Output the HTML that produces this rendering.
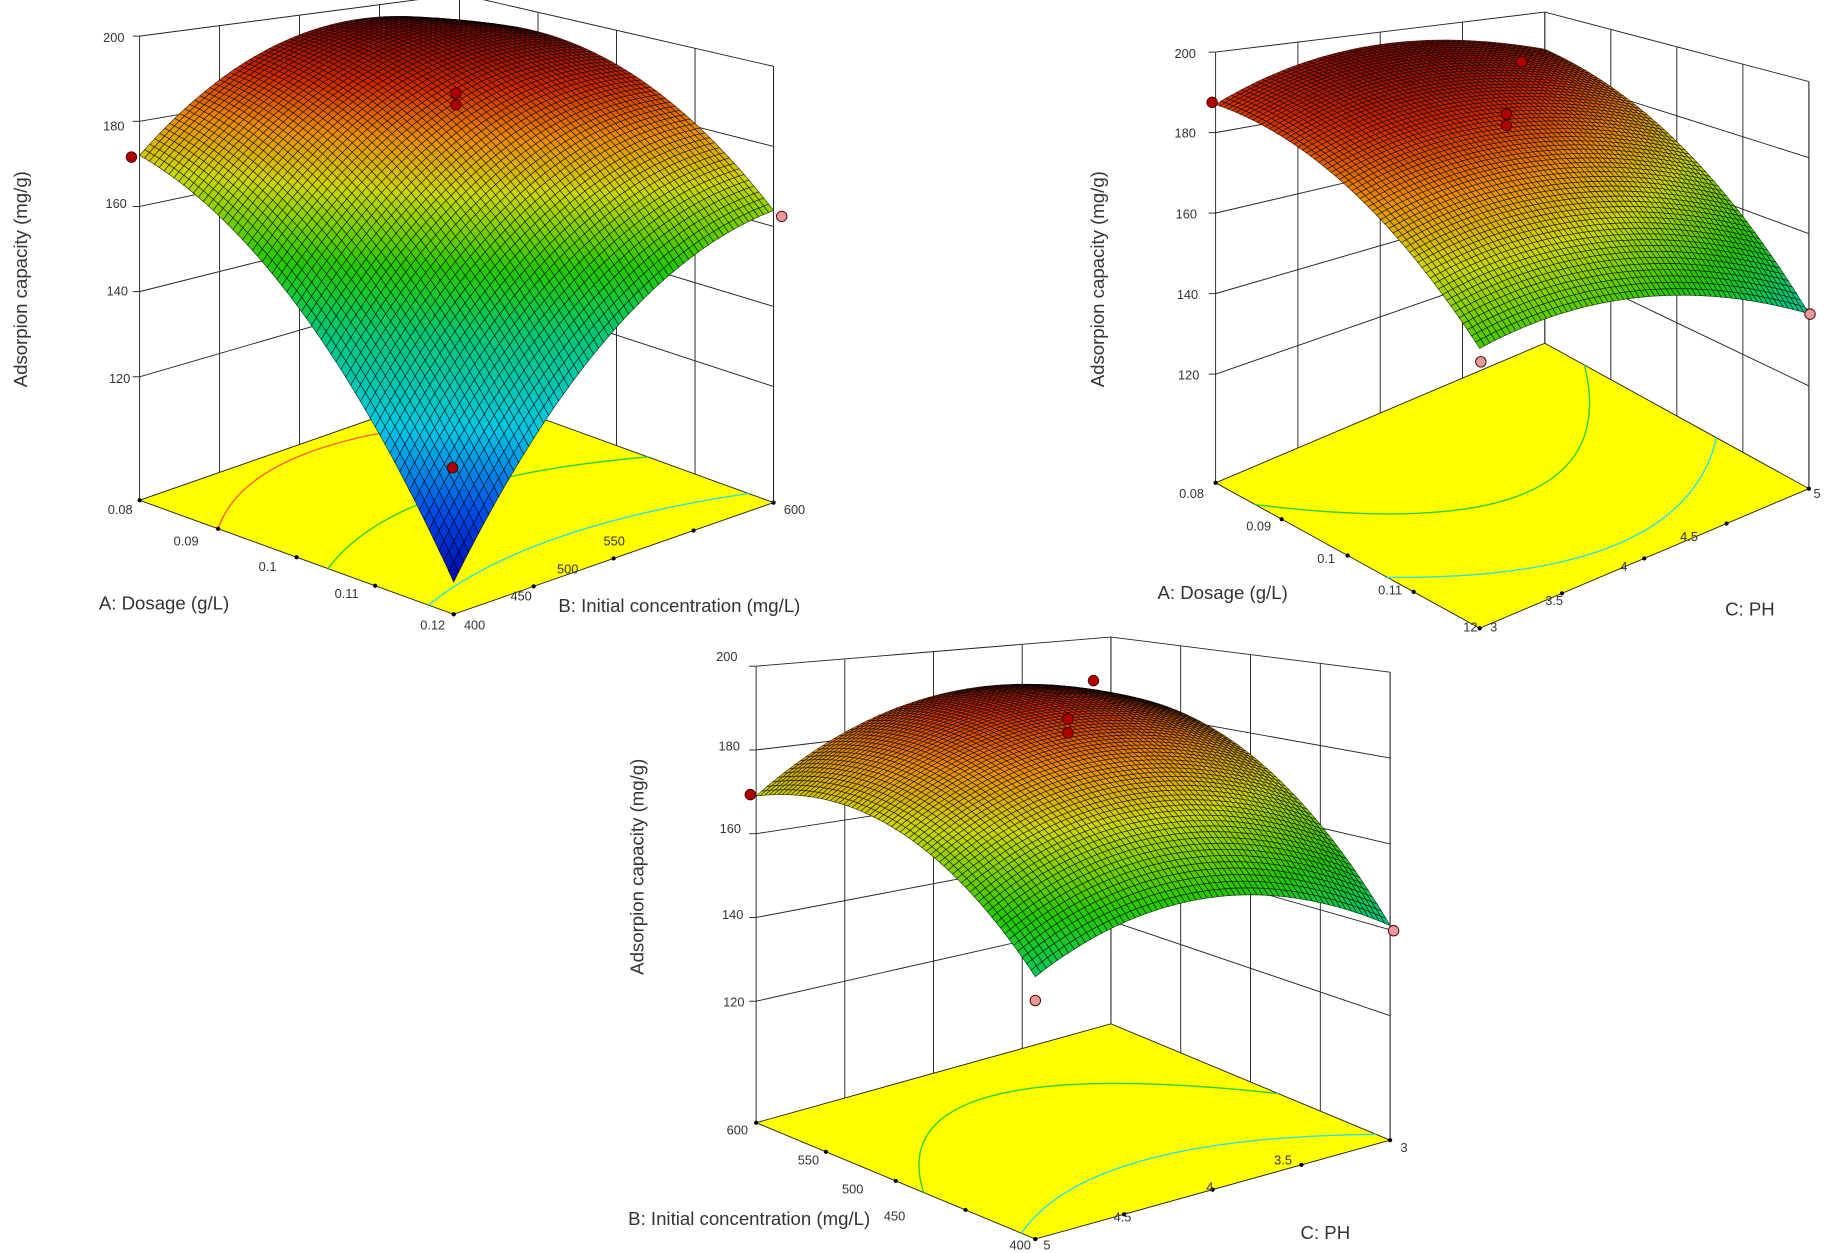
<!DOCTYPE html>
<html><head><meta charset="utf-8"><style>
html,body{margin:0;padding:0;background:#fff;}
svg{display:block;}
text{font-family:"Liberation Sans",sans-serif;fill:#333;}
.t{font-size:11px;}
.ti{font-size:16px;}
</style></head><body>
<svg id="s" width="1824" height="1253" viewBox="0 0 1568 1077" preserveAspectRatio="none" xmlns="http://www.w3.org/2000/svg">
<g id="g"></g>
<g class="t">
<text x="107" y="36" text-anchor="end" class="t">200</text>
<text x="107" y="112" text-anchor="end" class="t">180</text>
<text x="109" y="179" text-anchor="end" class="t">160</text>
<text x="110" y="254" text-anchor="end" class="t">140</text>
<text x="112" y="329" text-anchor="end" class="t">120</text>
<text x="114" y="442" text-anchor="end" class="t">0.08</text>
<text x="160" y="469" text-anchor="middle" class="t">0.09</text>
<text x="230" y="491" text-anchor="middle" class="t">0.1</text>
<text x="298" y="514" text-anchor="middle" class="t">0.11</text>
<text x="372" y="541" text-anchor="middle" class="t">0.12</text>
<text x="408" y="541" text-anchor="middle" class="t">400</text>
<text x="448" y="516" text-anchor="middle" class="t">450</text>
<text x="488" y="493" text-anchor="middle" class="t">500</text>
<text x="528" y="469" text-anchor="middle" class="t">550</text>
<text x="683" y="442" text-anchor="middle" class="t">600</text>
</g>
<text x="85" y="524" class="ti">A: Dosage (g/L)</text>
<text x="480" y="526" class="ti">B: Initial concentration (mg/L)</text>
<text transform="translate(23,240) rotate(-90)" text-anchor="middle" class="ti">Adsorpion capacity (mg/g)</text>
<text x="1028" y="50" text-anchor="end" class="t">200</text>
<text x="1028" y="118" text-anchor="end" class="t">180</text>
<text x="1029" y="188" text-anchor="end" class="t">160</text>
<text x="1030" y="257" text-anchor="end" class="t">140</text>
<text x="1031" y="326" text-anchor="end" class="t">120</text>
<text x="1035" y="428" text-anchor="end" class="t">0.08</text>
<text x="1082" y="456" text-anchor="middle" class="t">0.09</text>
<text x="1140" y="484" text-anchor="middle" class="t">0.1</text>
<text x="1195" y="511" text-anchor="middle" class="t">0.11</text>
<text x="1264" y="543" text-anchor="middle" class="t">12</text>
<text x="1284" y="543" text-anchor="middle" class="t">3</text>
<text x="1336" y="520" text-anchor="middle" class="t">3.5</text>
<text x="1396" y="491" text-anchor="middle" class="t">4</text>
<text x="1452" y="465" text-anchor="middle" class="t">4.5</text>
<text x="1562" y="428" text-anchor="middle" class="t">5</text>
<text x="995" y="515" class="ti">A: Dosage (g/L)</text>
<text x="1483" y="529" class="ti">C: PH</text>
<text transform="translate(949,240) rotate(-90)" text-anchor="middle" class="ti">Adsorpion capacity (mg/g)</text>
<text x="634" y="568" text-anchor="end" class="t">200</text>
<text x="636" y="645" text-anchor="end" class="t">180</text>
<text x="637" y="716" text-anchor="end" class="t">160</text>
<text x="639" y="790" text-anchor="end" class="t">140</text>
<text x="640" y="865" text-anchor="end" class="t">120</text>
<text x="643" y="975" text-anchor="end" class="t">600</text>
<text x="695" y="1001" text-anchor="middle" class="t">550</text>
<text x="733" y="1026" text-anchor="middle" class="t">500</text>
<text x="769" y="1049" text-anchor="middle" class="t">450</text>
<text x="877" y="1074" text-anchor="middle" class="t">400</text>
<text x="900" y="1074" text-anchor="middle" class="t">5</text>
<text x="965" y="1050" text-anchor="middle" class="t">4.5</text>
<text x="1040" y="1024" text-anchor="middle" class="t">4</text>
<text x="1103" y="1001" text-anchor="middle" class="t">3.5</text>
<text x="1207" y="990" text-anchor="middle" class="t">3</text>
<text x="540" y="1053" class="ti">B: Initial concentration (mg/L)</text>
<text x="1118" y="1065" class="ti">C: PH</text>
<text transform="translate(553,745) rotate(-90)" text-anchor="middle" class="ti">Adsorpion capacity (mg/g)</text>
</svg>
<script>
var NS="http://www.w3.org/2000/svg";
var g=document.getElementById('g');
function el(n,a){var e=document.createElementNS(NS,n);for(var k in a)e.setAttribute(k,a[k]);g.appendChild(e);return e;}
function col(z){
 var st=[[97,[0,0,160]],[110,[0,70,230]],[126,[0,200,230]],[143,[0,200,120]],[156,[40,200,0]],[170,[205,215,0]],[180,[235,140,0]],[189,[205,40,0]],[197,[130,10,0]],[205,[40,0,0]]];
 if(z<=st[0][0])return st[0][1];
 for(var i=1;i<st.length;i++){if(z<=st[i][0]){var t=(z-st[i-1][0])/(st[i][0]-st[i-1][0]);var a=st[i-1][1],b=st[i][1];return[a[0]+(b[0]-a[0])*t,a[1]+(b[1]-a[1])*t,a[2]+(b[2]-a[2])*t];}}
 return st[st.length-1][1];
}
function plot(P){
 var L=P.L,F=P.F,R=P.R;
 function base(a,b){return[L[0]+a*(F[0]-L[0])+b*(R[0]-F[0]),L[1]+a*(F[1]-L[1])+b*(R[1]-F[1])];}
 function sc(a,b){return P.s[0]*(1-a)*(1-b)+P.s[1]*a*(1-b)+P.s[2]*a*b+P.s[3]*(1-a)*b;}
 function W(a,b,z){var p=base(a,b);return[p[0],p[1]-(z-P.zf)*sc(a,b)];}
 function Z(a,b){var c=P.c;return c[0]*(1-a)*(1-b)+c[1]*a*(1-b)+c[2]*a*b+c[3]*(1-a)*b+P.b1*4*a*(1-a)+P.b2*4*b*(1-b);}
 function ln(p,q,w){el('line',{x1:p[0],y1:p[1],x2:q[0],y2:q[1],stroke:'#222','stroke-width':w||0.8});}
 for(var i=0;i<=4;i++){var t=i/4;ln(W(0,t,P.zf),W(0,t,200));ln(W(t,1,P.zf),W(t,1,200));}
 [120,140,160,180,200].forEach(function(z){ln(W(0,0,z),W(0,1,z));ln(W(0,1,z),W(1,1,z));ln(W(0,0,z),[W(0,0,z)[0]-6,W(0,0,z)[1]]);});
 var fl=[base(0,0),base(1,0),base(1,1),base(0,1)];
 el('polygon',{points:fl.map(function(p){return p.join(',')}).join(' '),fill:'#ffff00',stroke:'#222','stroke-width':0.8});
 P.cont.forEach(function(cv){var pts=[];for(var k=0;k<=40;k++){var bb=k/40;var aa=cv[1]+cv[2]*Math.pow(2*bb-1,2);if(aa<0||aa>1)continue;pts.push(base(aa,bb).join(','));}
  el('polyline',{points:pts.join(' '),fill:'none',stroke:cv[0],'stroke-width':1.2});});
 for(var i=0;i<=4;i++){var t=i/4;var p=base(t,0);el('circle',{cx:p[0],cy:p[1],r:1.8,fill:'#000'});p=base(1,t);el('circle',{cx:p[0],cy:p[1],r:1.8,fill:'#000'});}
 var N=64,q=[];
 for(var i=0;i<N;i++)for(var j=0;j<N;j++){var a0=i/N,a1=(i+1)/N,b0=j/N,b1=(j+1)/N;
  var zm=Z((a0+a1)/2,(b0+b1)/2);var bp=base((a0+a1)/2,(b0+b1)/2);
  q.push({d:bp[1],p:[W(a0,b0,Z(a0,b0)),W(a1,b0,Z(a1,b0)),W(a1,b1,Z(a1,b1)),W(a0,b1,Z(a0,b1))],z:zm});}
 q.sort(function(x,y){return x.d-y.d;});
 var f=document.createDocumentFragment();
 q.forEach(function(o){var c=col(o.z);var e=document.createElementNS(NS,'polygon');
  e.setAttribute('points',o.p.map(function(p){return p[0].toFixed(1)+','+p[1].toFixed(1)}).join(' '));
  e.setAttribute('fill','rgb('+(c[0]|0)+','+(c[1]|0)+','+(c[2]|0)+')');
  e.setAttribute('stroke','rgba(0,0,0,0.7)');e.setAttribute('stroke-width','0.6');f.appendChild(e);});
 g.appendChild(f);
 ln(W(1,1,P.zf),W(1,1,200));
 P.pts.forEach(function(d){el('circle',{cx:d[0],cy:d[1],r:4.5,fill:d[2]?'#e89a9a':'#b00000',stroke:'#400','stroke-width':0.8});});
}
plot({L:[120,430],F:[390,528],R:[665,432],zf:91,s:[3.66,3.95,3.44,3.11],c:[172,98,164,192],b1:13,b2:13,
 cont:[['#ff6030',0.05,0.2],['#30d030',0.45,0.15],['#30e0e0',0.82,0.1]],
 pts:[[113,135],[672,186,1],[392,80],[392,90],[389,402]]});
plot({L:[1045,415],F:[1272,540],R:[1555,420],zf:93,s:[3.46,3.7,3.27,2.66],c:[187,158,139,188],b1:9,b2:9,
 cont:[['#30d030',0.55,-0.4],['#30e0e0',0.9,-0.25]],
 pts:[[1042,88],[1308,53],[1295,98],[1295,108],[1273,311,1],[1556,270,1]]});
plot({L:[650,965],F:[890,1065],R:[1195,980],zf:91,s:[3.6,4.1,3.69,3.05],c:[169,146,141,184],b1:12,b2:12,
 cont:[['#30d030',0.2,0.4],['#30e0e0',0.75,0.2]],
 pts:[[645,683],[940,585],[918,618],[918,630],[890,860,1],[1198,800,1]]});
</script>
</body></html>
